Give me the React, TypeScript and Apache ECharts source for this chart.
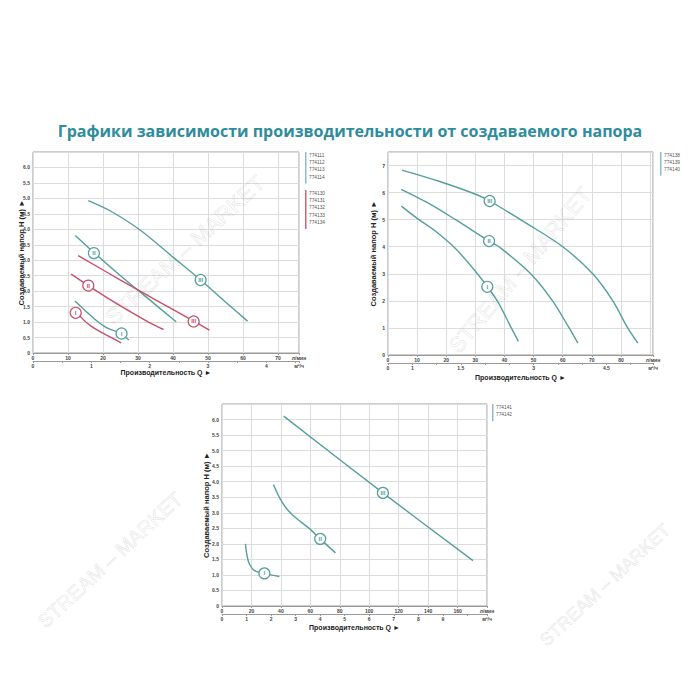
import React, { useEffect, useRef } from 'react';
import * as echarts from 'echarts';

const TITLE = 'Графики зависимости производительности от создаваемого напора';
const Y_NAME = 'Создаваемый напор H (м) ►';
const X_NAME = 'Производительность Q ►';
const UNIT_LMIN = 'л/мин';
const UNIT_M3H = 'м³/ч';
const WATERMARK = 'STREAM – MARKET';

// ---- Chart 1 (top-left), Q in l/min, H in m ----
const c1TealI: number[][] = [[12, 1.68], [15, 1.36], [18, 1.06], [21, 0.82], [24, 0.68], [27.4, 0.42]];
const c1TealII: number[][] = [[12.1, 3.8], [17.4, 3.25], [25, 2.5], [33, 1.75], [40.9, 1.01]];
const c1TealIII: number[][] = [[15.8, 4.93], [22, 4.6], [30.3, 4.0], [40, 3.1], [47.9, 2.36], [55, 1.65], [61.3, 1.03]];
const c1RedI: number[][] = [[11.9, 1.44], [14, 1.12], [16.7, 0.86], [20, 0.64], [25.2, 0.33]];
const c1RedII: number[][] = [[10.9, 2.55], [15.8, 2.18], [21, 1.8], [27.9, 1.33], [33, 1.0], [37.3, 0.76]];
const c1RedIII: number[][] = [[12.9, 3.15], [25, 2.36], [35, 1.72], [45.9, 1.03], [50.4, 0.74]];
const c1Marks = { tealI: [25.3, 0.63], tealII: [17.4, 3.23], tealIII: [47.9, 2.36], redI: [12.2, 1.3], redII: [15.8, 2.18], redIII: [45.9, 1.02] };
const c1XMax = 76;
const c1YMax = 6.5;

// ---- Chart 2 (top-right) ----
const c2I: number[][] = [[4.6, 5.5], [10, 5.05], [16, 4.6], [23, 3.95], [30.7, 3.0], [37.5, 2.0], [42.1, 1.05], [44.8, 0.5]];
const c2II: number[][] = [[4.5, 6.12], [14, 5.6], [23.2, 5.0], [34.7, 4.21], [38.1, 4.0], [49, 3.0], [56.5, 2.0], [62.2, 1.0], [65.2, 0.44]];
const c2III: number[][] = [[4.8, 6.83], [18, 6.4], [30.3, 5.93], [34.9, 5.69], [47, 4.9], [60, 4.0], [70.3, 3.0], [77.2, 2.0], [82.3, 1.0], [85.8, 0.44]];
const c2Marks = { I: [34.1, 2.52], II: [34.7, 4.21], III: [34.9, 5.69] };
const c2XMax = 91;
const c2YMax = 7.5;
const c2M3Labels: [number, string][] = [[0, '0'], [0.5, '1'], [1.5, '1.5'], [3, '3'], [4.5, '4.5']];

// ---- Chart 3 (bottom) ----
const c3I: number[][] = [[15.9, 2.0], [17, 1.62], [18.6, 1.35], [22, 1.14], [28.8, 1.05], [39, 0.95]];
const c3II: number[][] = [[34.9, 3.91], [41.3, 3.3], [48.1, 2.92], [59.4, 2.49], [66.7, 2.16], [77.1, 1.71]];
const c3III: number[][] = [[41.9, 6.11], [109.3, 3.64], [170.5, 1.46]];
const c3Marks = { I: [28.8, 1.05], II: [66.7, 2.16], III: [109.3, 3.64] };
const c3XMax = 180;
const c3YMax = 6.5;

const legend1Teal = ['774111', '774112', '774113', '774114'];
const legend1Red = ['774130', '774131', '774132', '774133', '774134'];
const legend2 = ['774138', '774139', '774140'];
const legend3 = ['774141', '774142'];

const LMIN_PER_M3H = 1000 / 60;

const TEAL = '#559f9b';
const RED = '#c7506b';
const TITLE_COLOR = '#2f8c9c';
const GRID_LINE = '#dcdcdc';
const FRAME = '#9a9a9a';
const LABEL = '#444';
const FONT = 'Liberation Sans, Arial, sans-serif';

const isMax = (v: number, max: number) => Math.abs(v - max) < 1e-6;

function App() {
  const ref = useRef<HTMLDivElement>(null);
  useEffect(() => {
    if (!ref.current) return;
    const chart = echarts.init(ref.current, undefined, { renderer: 'svg' });

    const grids = [
      { left: 33, top: 152, width: 266, height: 201 },
      { left: 388, top: 152, width: 265, height: 203 },
      { left: 222, top: 404, width: 265, height: 202 },
    ].map((g) => ({ ...g, show: true, borderColor: FRAME, borderWidth: 1, backgroundColor: '#fff' }));

    const labelStyle = { fontSize: 5, color: LABEL, fontFamily: FONT, fontWeight: 'bold' as const };
    const yNameStyle = { fontSize: 7.5, fontWeight: 'bold', color: '#222', fontFamily: FONT };
    const xNameStyle = { fontSize: 7, fontWeight: 'bold', color: '#222', fontFamily: FONT };

    const primaryX = (gridIndex: number, max: number, interval: number) => ({
      type: 'value',
      gridIndex,
      min: 0,
      max,
      interval,
      position: 'bottom',
      axisLine: { show: true, lineStyle: { color: FRAME } },
      axisTick: { show: true, length: 2, lineStyle: { color: FRAME } },
      splitLine: { show: true, lineStyle: { color: GRID_LINE, width: 1 } },
      axisLabel: {
        ...labelStyle,
        margin: 2,
        showMaxLabel: true,
        formatter: (v: number) => (isMax(v, max) ? UNIT_LMIN : v % interval === 0 ? String(v) : ''),
      },
    });

    const secondaryX = (
      gridIndex: number,
      maxLmin: number,
      interval: number,
      fmt: (v: number) => string,
      nameGap: number
    ) => {
      const max = maxLmin / LMIN_PER_M3H;
      return {
        type: 'value',
        gridIndex,
        min: 0,
        max,
        interval,
        position: 'bottom',
        offset: 8,
        name: X_NAME,
        nameLocation: 'middle',
        nameGap,
        nameMoveOverlap: false,
        nameTextStyle: xNameStyle,
        axisLine: { show: true, lineStyle: { color: FRAME } },
        axisTick: { show: true, length: 2, lineStyle: { color: FRAME } },
        splitLine: { show: false },
        axisLabel: {
          ...labelStyle,
          margin: 2,
          showMaxLabel: true,
          formatter: (v: number) => (isMax(v, max) ? UNIT_M3H : fmt(v)),
        },
      };
    };

    const yAxis = (gridIndex: number, max: number, interval: number, fmt: (v: number) => string, nameGap: number) => ({
      type: 'value',
      gridIndex,
      min: 0,
      max,
      interval,
      name: Y_NAME,
      nameLocation: 'middle',
      nameGap,
      nameMoveOverlap: false,
      nameTextStyle: yNameStyle,
      axisLine: { show: false },
      axisTick: { show: false },
      splitLine: { show: true, lineStyle: { color: GRID_LINE, width: 1 } },
      axisLabel: { ...labelStyle, margin: 3, showMaxLabel: true, formatter: (v: number) => (isMax(v, max) ? '' : fmt(v)) },
    });

    const halfFmt = (v: number) => (v === 0 ? '0' : v.toFixed(1));

    const xAxis = [
      primaryX(0, c1XMax, 10),
      secondaryX(0, c1XMax, 0.5, (v) => (Number.isInteger(v) ? String(v) : ''), 8),
      primaryX(1, c2XMax, 10),
      secondaryX(
        1,
        c2XMax,
        0.5,
        (v) => {
          const f = c2M3Labels.find((p) => Math.abs(p[0] - v) < 1e-6);
          return f ? f[1] : '';
        },
        11
      ),
      primaryX(2, c3XMax, 20),
      secondaryX(2, c3XMax, 1, (v) => (v <= 9 ? String(v) : ''), 10),
    ];

    const yAxes = [
      yAxis(0, c1YMax, 0.5, halfFmt, 8),
      yAxis(1, c2YMax, 1, (v) => (Number.isInteger(v) ? String(v) : ''), 11),
      yAxis(2, c3YMax, 0.5, halfFmt, 12),
    ];

    const mark = (coord: number[], text: string, color: string) => ({
      symbol: 'circle',
      symbolSize: 11,
      silent: true,
      itemStyle: { color: '#fff', borderColor: color, borderWidth: 1.2 },
      label: { show: true, formatter: text, color, fontSize: 6, fontWeight: 'bold', fontFamily: FONT },
      data: [{ coord, value: text }],
    });

    const line = (data: number[][], xi: number, yi: number, color: string, m?: { c: number[]; t: string }) => ({
      type: 'line',
      xAxisIndex: xi,
      yAxisIndex: yi,
      data,
      smooth: 0.35,
      showSymbol: false,
      symbol: 'none',
      lineStyle: { color, width: 1.4 },
      itemStyle: { color },
      z: 3,
      markPoint: m ? mark(m.c, m.t, color) : undefined,
    });

    const series = [
      line(c1TealI, 0, 0, TEAL, { c: c1Marks.tealI, t: 'I' }),
      line(c1TealII, 0, 0, TEAL, { c: c1Marks.tealII, t: 'II' }),
      line(c1TealIII, 0, 0, TEAL, { c: c1Marks.tealIII, t: 'III' }),
      line(c1RedI, 0, 0, RED, { c: c1Marks.redI, t: 'I' }),
      line(c1RedII, 0, 0, RED, { c: c1Marks.redII, t: 'II' }),
      line(c1RedIII, 0, 0, RED, { c: c1Marks.redIII, t: 'III' }),
      line(c2I, 2, 1, TEAL, { c: c2Marks.I, t: 'I' }),
      line(c2II, 2, 1, TEAL, { c: c2Marks.II, t: 'II' }),
      line(c2III, 2, 1, TEAL, { c: c2Marks.III, t: 'III' }),
      line(c3I, 4, 2, TEAL, { c: c3Marks.I, t: 'I' }),
      line(c3II, 4, 2, TEAL, { c: c3Marks.II, t: 'II' }),
      line(c3III, 4, 2, TEAL, { c: c3Marks.III, t: 'III' }),
    ];

    const legendBlock = (x: number, y: number, items: string[], color: string, step: number) => {
      const els: any[] = [
        { type: 'rect', shape: { x, y, width: 1.5, height: items.length * step + 2 }, style: { fill: color } },
      ];
      items.forEach((t, i) => {
        els.push({
          type: 'text',
          x: x + 4,
          y: y + 3 + i * step,
          style: { text: t, fill: '#555', font: `4.8px ${FONT}`, textVerticalAlign: 'middle' },
        });
      });
      return els;
    };

    const watermark = (x: number, y: number, rot: number, size: number) => ({
      type: 'text',
      x,
      y,
      rotation: rot,
      silent: true,
      z: 1,
      style: {
        text: WATERMARK,
        fill: 'rgba(255,255,255,0)',
        stroke: 'rgba(150,150,150,0.28)',
        lineWidth: 0.6,
        font: `${size}px ${FONT}`,
        textAlign: 'center',
        textVerticalAlign: 'middle',
      },
    });

    const graphic = [
      {
        type: 'text',
        x: 350,
        y: 131,
        style: {
          text: TITLE,
          fill: TITLE_COLOR,
          font: `bold 16px "Open Sans", sans-serif`,
          textAlign: 'center',
          textVerticalAlign: 'middle',
        },
      },
      ...legendBlock(305, 152, legend1Teal, '#8fbccb', 7.4),
      ...legendBlock(305, 190, legend1Red, '#c06a7a', 7.4),
      ...legendBlock(660, 152, legend2, '#8fbccb', 7.2),
      ...legendBlock(492, 404, legend3, '#8fbccb', 7.6),
      watermark(185, 250, Math.PI / 4.2, 22),
      watermark(520, 270, Math.PI / 3.6, 22),
      watermark(605, 585, Math.PI / 4.2, 18),
      watermark(110, 560, Math.PI / 4.2, 20),
    ];

    chart.setOption({
      animation: false,
      backgroundColor: '#fff',
      grid: grids,
      xAxis,
      yAxis: yAxes,
      series,
      graphic,
    });
    return () => chart.dispose();
  }, []);
  return <div ref={ref} style={{ position: 'absolute', left: 0, top: 0, width: 700, height: 700, background: '#fff' }} />;
}

export default App;
